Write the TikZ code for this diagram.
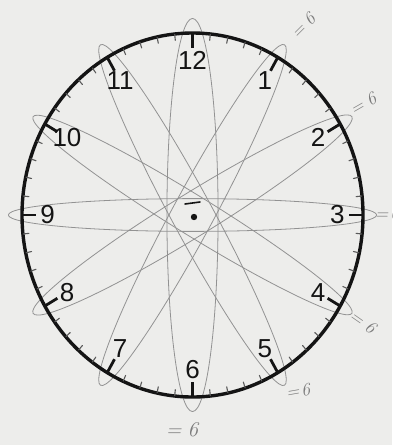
\documentclass[tikz,border=0pt]{standalone}
\usepackage{fontspec}
\setsansfont{Liberation Sans}
\usetikzlibrary{positioning}
\definecolor{clockPaper}{HTML}{EDEDEB}
\definecolor{clockInk}{HTML}{141414}
\definecolor{clockTick}{HTML}{5A5A5A}
\definecolor{clockPencil}{HTML}{929292}
\begin{document}
\begin{tikzpicture}[x=1pt,y=-1pt,line cap=round,line join=round]
\useasboundingbox (0,0) rectangle (392,445);
\path[fill=clockPaper] (0,0) rectangle (392,445);
\tikzset{rim/.style={draw=clockInk,line width=3.4pt},hourtick/.style={draw=clockInk,line width=2.8pt,line cap=butt},minutetick/.style={draw=clockTick,line width=1.1pt},pencil/.style={draw=clockPencil,line width=0.8pt},numeral/.style={text=clockInk,font=\sffamily\fontsize{26}{26}\selectfont,inner sep=0pt},scrawl/.style={text=clockPencil!85!black,font=\itshape\fontsize{18}{18}\selectfont,inner sep=0pt}}
\begin{scope}[shift={(192.5,215)},xscale=170.5,yscale=-182]
% pencil loops through opposite hours
\foreach \ang/\w in {90/0.15,60/0.12,30/0.11,0/0.09,-30/0.12,-60/0.12}
  \draw[pencil,rotate=\ang] (0,0) ellipse (1.08 and \w);
\draw[rim] (0,0) circle (1);
\foreach \m in {0,...,59}
  \draw[minutetick] (90-6*\m:0.998) -- (90-6*\m:0.965);
\foreach \h in {1,...,12}{
  \draw[hourtick] (90-30*\h:1) -- (90-30*\h:0.915);
  \node[numeral] (h\h) at (90-30*\h:0.85) {\h};
}
\end{scope}
\fill[clockInk] (194,217) circle (3.2);
\draw[clockInk,line width=1.6pt] (185,204) -- (200,202);
\node[scrawl,rotate=45] (eq1) at (303,26) {=\kern5pt6};
\node[scrawl,rotate=30] (eq2) at (363,104) {=\kern5pt6};
\node[scrawl] (eq3) at (387,214) {=\kern2pt6};
\node[scrawl,rotate=-35] (eq4) at (363,322) {=\kern5pt6};
\node[scrawl,rotate=10] (eq5) at (298,391) {=\kern2pt6};
\node[scrawl,font=\itshape\fontsize{21}{21}\selectfont] (eq6) at (182,430) {=\kern6pt6};
\end{tikzpicture}
\end{document}
